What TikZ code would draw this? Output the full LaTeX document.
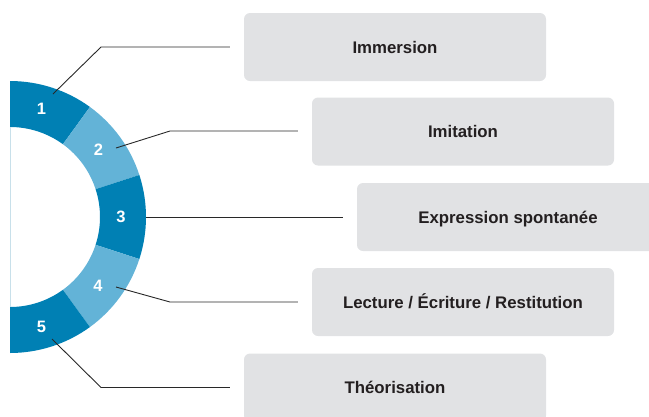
\documentclass[tikz,border=0pt]{standalone}
\usepackage{fontspec}
\setmainfont{Liberation Sans}
\usetikzlibrary{calc}
\definecolor{darkblue}{RGB}{0,128,180}
\definecolor{lightblue}{RGB}{99,179,215}
\definecolor{boxgray}{RGB}{225,226,228}
\definecolor{textgray}{RGB}{35,31,32}
\definecolor{leaderline}{RGB}{40,40,40}
\definecolor{edgeline}{RGB}{200,224,234}
\begin{document}
\begin{tikzpicture}[x=1pt,y=-1pt,
  stagebox/.style={fill=boxgray, rounded corners=6pt, minimum width=302pt, minimum height=68pt, inner sep=0pt, text height=12pt, text depth=0pt, font=\fontsize{16.8}{18}\selectfont\bfseries, text=textgray},
  numlabel/.style={font=\fontsize{16.5}{18}\selectfont\bfseries, text=white, inner sep=0pt},
  leader/.style={draw=leaderline, line width=0.9pt, shorten >=14pt}]
\useasboundingbox (0,0) rectangle (649,416);
\clip (0,0) rectangle (649,416);
\coordinate (C) at (10,217);
\foreach \k/\col in {1/darkblue,2/lightblue,3/darkblue,4/lightblue,5/darkblue}{
  \pgfmathsetmacro\aa{-90+36*(\k-1)}
  \pgfmathsetmacro\ab{-90+36*\k}
  \fill[\col] ($(C)+(\aa:136)$) arc[start angle=\aa, end angle=\ab, radius=136] -- ($(C)+(\ab:90)$) arc[start angle=\ab, end angle=\aa, radius=90] -- cycle;
}
\draw[edgeline, line width=0.8pt] ($(C)+(0,-90)$) -- ($(C)+(0,90)$);
\node[numlabel] (n1) at (41.5,109) {1};
\node[numlabel] (n2) at (98.5,149.5) {2};
\node[numlabel] (n3) at (121,217) {3};
\node[numlabel] (n4) at (98,286) {4};
\node[numlabel] (n5) at (41.5,327) {5};
\node[stagebox] (b1) at (395,47) {Immersion};
\node[stagebox] (b2) at (463,131.5) {Imitation};
\node[stagebox] (b3) at (508,217) {Expression spontanée};
\node[stagebox] (b4) at (463,302) {Lecture / Écriture / Restitution};
\node[stagebox] (b5) at (395,387.5) {Théorisation};
\coordinate (s1) at (53,94);
\coordinate (s2) at (116,148);
\coordinate (s3) at (146,217);
\coordinate (s4) at (116,287);
\coordinate (s5) at (52,339);
\coordinate (e1) at (101,47);
\coordinate (e2) at (170,131);
\coordinate (e4) at (170,302);
\coordinate (e5) at (101,387.5);
\draw[leader] (s1) -- (e1) -- (e1 -| b1.west);
\draw[leader] (s2) -- (e2) -- (e2 -| b2.west);
\draw[leader] (s3) -- (s3 -| b3.west);
\draw[leader] (s4) -- (e4) -- (e4 -| b4.west);
\draw[leader] (s5) -- (e5) -- (e5 -| b5.west);
\end{tikzpicture}
\end{document}
